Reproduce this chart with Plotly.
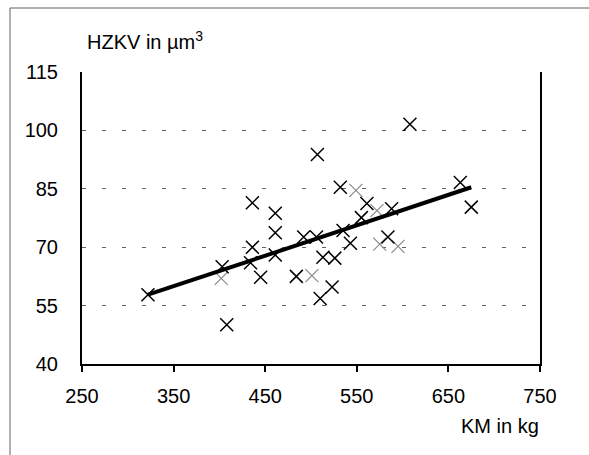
import plotly.graph_objects as go

# KM (kg) vs HZKV (µm³) measurements
km = [322, 403, 408, 436, 436, 434, 445, 461, 461, 461, 484, 492, 506, 507,
      510, 513, 523, 526, 532, 535, 543, 555, 561, 584, 588, 608, 663, 675]
hzkv = [57.8, 65.0, 50.1, 81.4, 70.0, 66.0, 62.3, 78.7, 73.7, 68.0, 62.5, 72.6,
        72.6, 93.8, 56.8, 67.4, 59.8, 67.2, 85.4, 74.3, 71.0, 77.6, 81.2, 72.6,
        79.9, 101.6, 86.6, 80.3]

# faintly printed measurements
km_faint = [402, 501, 549, 572, 575, 595]
hzkv_faint = [62.0, 62.7, 84.6, 79.4, 70.8, 70.2]

# linear trend end points
trend_km = [322, 675]
trend_hzkv = [57.8, 85.4]

x_ticks = [250, 350, 450, 550, 650, 750]
y_ticks = [40, 55, 70, 85, 100, 115]

FONT = "Liberation Sans, Arial, sans-serif"
FS = 20
W, H = 589, 455
ML, MR, MT, MB = 82, 49, 72, 91
PW, PH = W - ML - MR, H - MT - MB


def px(x):
    return (x - ML) / PW


def py(y):
    return (H - MB - y) / PH


fig = go.Figure()
fig.add_trace(go.Scatter(
    x=km_faint, y=hzkv_faint, mode="markers",
    marker=dict(symbol="x-thin", size=13, color="#8a8a8a",
                line=dict(color="#8a8a8a", width=1.2)),
    showlegend=False, hoverinfo="skip"))
fig.add_trace(go.Scatter(
    x=km, y=hzkv, mode="markers",
    marker=dict(symbol="x-thin", size=13, color="black",
                line=dict(color="black", width=1.5)),
    showlegend=False))
fig.add_trace(go.Scatter(
    x=trend_km, y=trend_hzkv, mode="lines",
    line=dict(color="black", width=4),
    showlegend=False))

fig.update_xaxes(
    range=[250, 750], tickvals=x_ticks, ticktext=[str(v) for v in x_ticks],
    showgrid=False, zeroline=False,
    showline=True, linecolor="black", linewidth=2,
    ticks="outside", ticklen=6, tickwidth=1.5, tickcolor="black",
    ticklabelstandoff=7,
    tickfont=dict(family=FONT, size=FS, color="black"))
fig.update_yaxes(
    range=[40, 115], tickvals=y_ticks, ticktext=[str(v) for v in y_ticks],
    showgrid=True, gridcolor="#606060", gridwidth=1, griddash="4px,16px",
    zeroline=False,
    showline=True, mirror=True, linecolor="black", linewidth=2,
    ticks="", ticklabelstandoff=18,
    tickfont=dict(family=FONT, size=FS, color="black"))

fig.update_layout(
    width=W, height=H,
    margin=dict(l=ML, r=MR, t=MT, b=MB),
    paper_bgcolor="white", plot_bgcolor="white",
    font=dict(family=FONT, size=FS, color="black"),
    shapes=[
        dict(type="line", xref="paper", yref="paper",
             x0=px(10), x1=px(W + 5), y0=py(8), y1=py(8),
             line=dict(color="#606060", width=1)),
        dict(type="line", xref="paper", yref="paper",
             x0=px(10), x1=px(10), y0=py(8), y1=py(H + 5),
             line=dict(color="#606060", width=1)),
    ],
    annotations=[
        dict(text="HZKV in µm<sup>3</sup>", xref="paper", yref="paper",
             x=px(85), y=py(40), xanchor="left", yanchor="middle",
             showarrow=False, font=dict(family=FONT, size=FS)),
        dict(text="KM in kg", xref="paper", yref="paper",
             x=px(541), y=py(426), xanchor="right", yanchor="middle",
             showarrow=False, font=dict(family=FONT, size=FS)),
    ],
)

fig.write_html("out.html")
